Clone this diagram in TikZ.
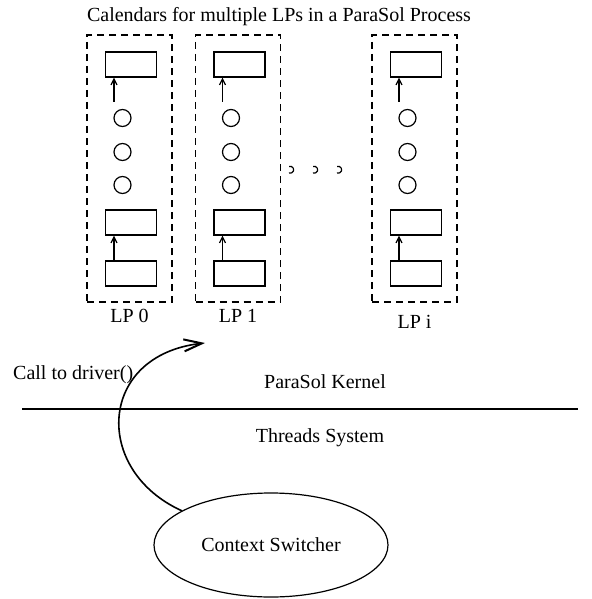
\documentclass[tikz,border=0pt]{standalone}
\usepackage{fontspec}
\setmainfont{Liberation Serif}
\usepackage{tikz}
\usetikzlibrary{positioning, arrows.meta, shapes.geometric}

\newcommand{\lpfont}{\fontsize{20}{24}\selectfont}

\tikzset{
  lpbox/.style={draw, line width=1.2pt, dash pattern=on 7pt off 5pt,
                minimum width=85pt, minimum height=267pt, inner sep=0pt},
  event/.style={draw, line width=1.2pt, minimum width=51pt, minimum height=25pt, inner sep=0pt},
  slot/.style={draw, circle, line width=1.2pt, minimum size=17pt, inner sep=0pt},
  link/.style={line width=1.2pt, -{Straight Barb[length=6pt, width=6pt]}},
  call/.style={line width=1.6pt, -{Straight Barb[length=18pt, width=12pt, line width=2pt]}}
}

\begin{document}
\begin{tikzpicture}[x=1pt, y=-1pt, font=\lpfont]
  \useasboundingbox (0,0) rectangle (591,599);

  \node (title) at (279,17) {Calendars for multiple LPs in a ParaSol Process};

  % one calendar column per LP
  \foreach \id/\cx/\lab/\gap in {0/131/LP 0/3pt, 1/239.5/LP 1/3pt, i/416/LP i/9pt} {
    \node[lpbox] (lp\id) at (\cx-1.5,168.5) {};
    \node[event] (lp\id-top) at (\cx,64.5) {};
    \node[event] (lp\id-mid) at (\cx,222.5) {};
    \node[event] (lp\id-bot) at (\cx,273.5) {};
    \foreach \k/\cy in {1/118, 2/152, 3/185}
      \node[slot] (lp\id-c\k) at (\cx-8.5,\cy) {};
    \coordinate (lp\id-src) at (\cx-17,102);
    \draw[link] (lp\id-src) -- (lp\id-src |- lp\id-top.south);
    \draw[link] (lp\id-bot.north -| lp\id-src) -- (lp\id-src |- lp\id-mid.south);
    \node[below=\gap of lp\id] (lp\id-name) {\lab};
  }

  % dots between LP 1 and LP i
  \foreach \x in {290, 314, 338}
    \draw[line width=1.2pt] (\x-1,173) arc (110:-110:3.5);

  % kernel / threads boundary
  \coordinate (kl) at (22,409);
  \coordinate (kr) at (578,409);
  \draw[line width=1.2pt] (kl) -- (kr);
  \node (kernel) at (325,382) {ParaSol Kernel};
  \node (threads) at (320,438) {Threads System};

  \node[draw, ellipse, line width=1.2pt, minimum width=234pt, minimum height=104pt] (switch) at (271,545) {Context Switcher};

  \node[anchor=west, inner sep=0pt] (call) at (13,375) {Call to driver()};
  \coordinate (drv) at (205,343);
  \draw[call] (switch.159) .. controls (92,470) and (98,355) .. (drv);
\end{tikzpicture}
\end{document}
